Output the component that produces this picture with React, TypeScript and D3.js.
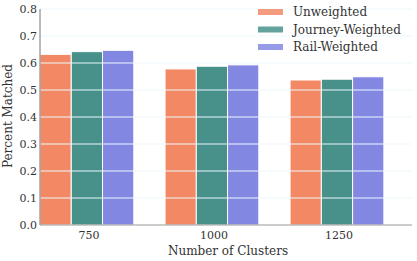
import React, { useEffect, useRef } from 'react';
import * as d3 from 'd3';

const clusters = ['750', '1000', '1250'];
const seriesNames = ['Unweighted', 'Journey-Weighted', 'Rail-Weighted'];
const unweighted = [0.632, 0.578, 0.537];
const journeyWeighted = [0.642, 0.588, 0.540];
const railWeighted = [0.647, 0.593, 0.549];
const yTicks = [0, 0.1, 0.2, 0.3, 0.4, 0.5, 0.6, 0.7, 0.8];
const colors = ['#f2825c', '#3d8b84', '#7b82e0'];

const App = () => {
  const svgRef = useRef(null);

  useEffect(() => {
    const svg = d3.select(svgRef.current);
    svg.selectAll('*').remove();
    const font = '"DejaVu Serif", serif';
    const series = [unweighted, journeyWeighted, railWeighted];
    const barW = 0.25;

    const x = d3.scaleLinear().domain([-0.375, 2.6]).range([40, 412]);
    const y = d3.scaleLinear().domain([0, 0.8]).range([225, 9]);

    // barras
    series.forEach((vals, j) => {
      svg.append('g')
        .selectAll('rect')
        .data(vals)
        .enter()
        .append('rect')
        .attr('x', (d, i) => x(i - 0.375 + j * barW))
        .attr('y', d => y(d))
        .attr('width', x(barW) - x(0))
        .attr('height', d => y(0) - y(d))
        .style('fill', colors[j])
        .style('fill-opacity', 0.95)
        .style('stroke', '#fff')
        .style('stroke-width', 1);
    });

    // rejilla blanca sobre las barras
    svg.append('g')
      .selectAll('line')
      .data(yTicks.slice(1))
      .enter()
      .append('line')
      .attr('x1', x.range()[0])
      .attr('x2', x.range()[1])
      .attr('y1', d => y(d))
      .attr('y2', d => y(d))
      .style('stroke', '#eef8fb')
      .style('stroke-width', 1.2);

    // ejes
    svg.append('line')
      .attr('x1', 40).attr('x2', 40).attr('y1', 9).attr('y2', 225)
      .style('stroke', '#777').style('stroke-width', 1);
    svg.append('line')
      .attr('x1', 40).attr('x2', 412).attr('y1', 225).attr('y2', 225)
      .style('stroke', '#999').style('stroke-width', 1);

    svg.append('g')
      .selectAll('text')
      .data(yTicks)
      .enter()
      .append('text')
      .attr('x', 37)
      .attr('y', d => y(d))
      .attr('dy', '0.35em')
      .attr('text-anchor', 'end')
      .text(d => d.toFixed(1))
      .style('font-family', font)
      .style('font-size', '11px')
      .style('fill', '#333');

    svg.append('g')
      .selectAll('text')
      .data(clusters)
      .enter()
      .append('text')
      .attr('x', (d, i) => x(i) + 2)
      .attr('y', 239)
      .attr('text-anchor', 'middle')
      .text(d => d)
      .style('font-family', font)
      .style('font-size', '11px')
      .style('fill', '#333');

    svg.append('text')
      .attr('x', 228)
      .attr('y', 255)
      .attr('text-anchor', 'middle')
      .text('Number of Clusters')
      .style('font-family', font)
      .style('font-size', '12px')
      .style('fill', '#333');

    svg.append('text')
      .attr('transform', 'translate(12,116) rotate(-90)')
      .attr('text-anchor', 'middle')
      .text('Percent Matched')
      .style('font-family', font)
      .style('font-size', '12px')
      .style('fill', '#333');

    // leyenda
    const legend = svg.append('g');
    seriesNames.forEach((name, j) => {
      const cy = 12 + j * 17.5;
      legend.append('rect')
        .attr('x', 258).attr('y', cy - 3).attr('width', 25).attr('height', 6)
        .style('fill', colors[j]).style('fill-opacity', 0.8);
      legend.append('text')
        .attr('x', 293).attr('y', cy)
        .attr('dy', '0.35em')
        .text(name)
        .style('font-family', font)
        .style('font-size', '12px')
        .style('fill', '#333');
    });
  }, []);

  return (
    <svg ref={svgRef} width={417} height={261} style={{ position: 'absolute', left: 0, top: 0, background: '#fff' }}></svg>
  );
};

export default App;
